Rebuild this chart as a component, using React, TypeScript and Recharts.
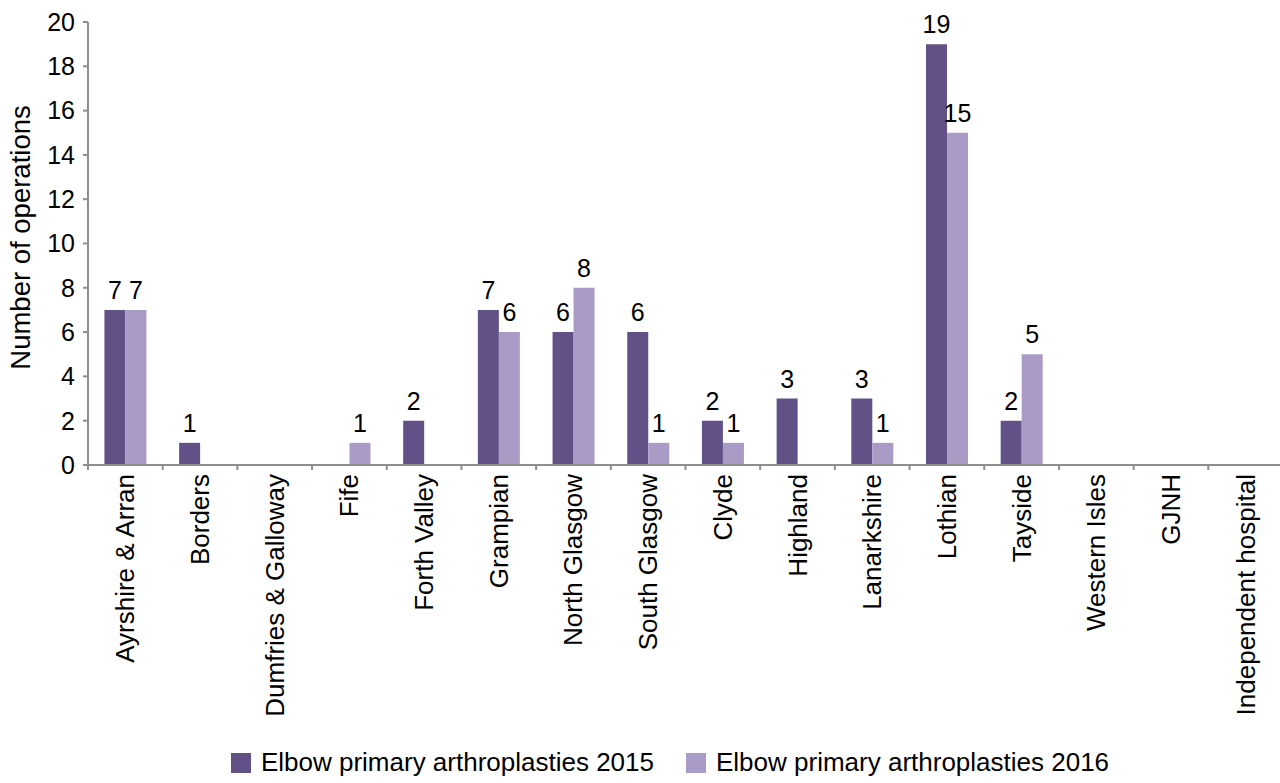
import { BarChart, Bar, XAxis, YAxis, Legend, LabelList } from 'recharts';

const boards = [
  'Ayrshire & Arran',
  'Borders',
  'Dumfries & Galloway',
  'Fife',
  'Forth Valley',
  'Grampian',
  'North Glasgow',
  'South Glasgow',
  'Clyde',
  'Highland',
  'Lanarkshire',
  'Lothian',
  'Tayside',
  'Western Isles',
  'GJNH',
  'Independent hospital',
];

const ops2015 = [7, 1, 0, 0, 2, 7, 6, 6, 2, 3, 3, 19, 2, 0, 0, 0];
const ops2016 = [7, 0, 0, 1, 0, 6, 8, 1, 1, 0, 1, 15, 5, 0, 0, 0];

const yTicks = [0, 2, 4, 6, 8, 10, 12, 14, 16, 18, 20];

const series = [
  { key: 'y2015', name: 'Elbow primary arthroplasties 2015', color: '#615187' },
  { key: 'y2016', name: 'Elbow primary arthroplasties 2016', color: '#a99ac6' },
];

const data = boards.map((board, i) => ({ board, y2015: ops2015[i], y2016: ops2016[i] }));

const FONT = '"Liberation Sans", Arial, Helvetica, sans-serif';
const AXIS_COLOR = '#8e8e8e';

// rotated board name plus a tick mark on the left edge of each band
function BoardTick(props: any) {
  const { x, y, payload } = props;
  const half = payload && payload.offset ? payload.offset : 37;
  return (
    <g>
      <line x1={x - half} y1={y} x2={x - half} y2={y + 5} stroke={AXIS_COLOR} strokeWidth={2} />
      <text
        x={x}
        y={y + 9}
        transform={`rotate(-90 ${x} ${y + 9})`}
        textAnchor="end"
        dominantBaseline="central"
        fontSize={26}
        fontFamily={FONT}
        fill="#000"
      >
        {payload.value}
      </text>
    </g>
  );
}

function YTitle(props: any) {
  const { viewBox } = props;
  const cx = 20;
  const cy = viewBox.y + viewBox.height / 2 - 6;
  return (
    <text
      x={cx}
      y={cy}
      transform={`rotate(-90 ${cx} ${cy})`}
      textAnchor="middle"
      dominantBaseline="central"
      fontSize={27.5}
      fontFamily={FONT}
      fill="#000"
    >
      Number of operations
    </text>
  );
}

function SeriesLegend() {
  return (
    <div
      style={{
        display: 'flex',
        justifyContent: 'center',
        alignItems: 'center',
        paddingTop: 12,
        fontFamily: FONT,
        fontSize: 26,
        color: '#000',
      }}
    >
      {series.map((s, i) => (
        <div key={s.key} style={{ display: 'flex', alignItems: 'center', marginLeft: i ? 32 : 0 }}>
          <span style={{ width: 20, height: 20, background: s.color, marginRight: 10 }} />
          <span>{s.name}</span>
        </div>
      ))}
    </div>
  );
}

const hideZero = (v: any) => (Number(v) === 0 ? '' : v);

export default function App() {
  return (
    <div style={{ position: 'absolute', left: 0, top: 0, width: 1280, height: 783, overflow: 'hidden', background: '#fff' }}>
      <BarChart
        width={1283}
        height={783}
        data={data}
        margin={{ top: 22, right: 0, bottom: 0, left: 0 }}
        barCategoryGap="22%"
        barGap={0}
      >
        <XAxis
          dataKey="board"
          interval={0}
          height={270}
          tickLine={false}
          tickSize={0}
          tickMargin={0}
          tick={<BoardTick />}
          axisLine={{ stroke: AXIS_COLOR, strokeWidth: 2 }}
        />
        <YAxis
          width={88}
          domain={[0, 20]}
          ticks={yTicks}
          interval={0}
          tickSize={5}
          tickMargin={8}
          axisLine={{ stroke: AXIS_COLOR, strokeWidth: 2 }}
          tickLine={{ stroke: AXIS_COLOR, strokeWidth: 2 }}
          tick={{ fill: '#000', fontSize: 25, fontFamily: FONT }}
          label={<YTitle />}
        />
        <Legend
          verticalAlign="bottom"
          content={<SeriesLegend />}
          wrapperStyle={{ height: 48, left: 78, width: 1184 }}
        />
        {series.map((s) => (
          <Bar key={s.key} dataKey={s.key} name={s.name} fill={s.color} isAnimationActive={false}>
            <LabelList
              dataKey={s.key}
              position="top"
              offset={11}
              formatter={hideZero}
              fill="#000"
              fontSize={25}
              fontFamily={FONT}
            />
          </Bar>
        ))}
      </BarChart>
    </div>
  );
}
